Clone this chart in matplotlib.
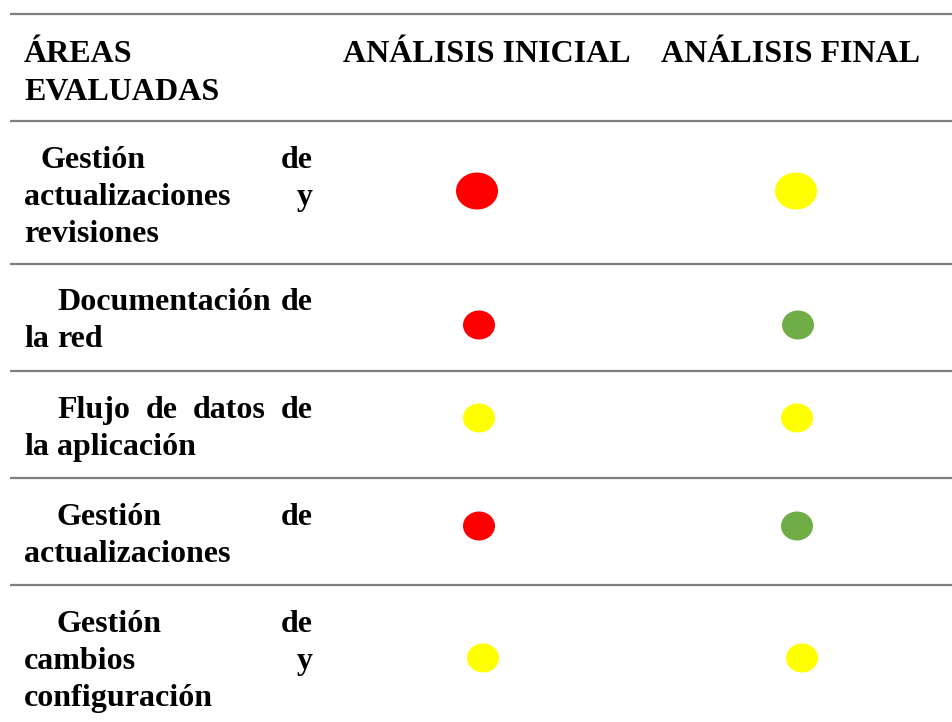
import matplotlib
matplotlib.use('Agg')
import matplotlib.pyplot as plt
from matplotlib.patches import Ellipse

# datos de la tabla
encabezados = ['ÁREAS\nEVALUADAS', 'ANÁLISIS INICIAL', 'ANÁLISIS FINAL']
areas = [
    ['Gestión de', 'actualizaciones y', 'revisiones'],
    ['Documentación de', 'la red'],
    ['Flujo de datos de', 'la aplicación'],
    ['Gestión de', 'actualizaciones'],
    ['Gestión de', 'cambios y', 'configuración'],
]
inicial = ['rojo', 'rojo', 'amarillo', 'rojo', 'amarillo']
final = ['amarillo', 'verde', 'amarillo', 'verde', 'amarillo']

colores = {'rojo': '#FF0000', 'amarillo': '#FFFF00', 'verde': '#70AD47'}

# disposición (pixeles)
lineas_y = [14, 121, 264, 371, 478, 585]
base_y = [168, 310, 418, 525, 632]
interlineado = 37
sangria = [40, 57, 57, 57, 57]
margen_izq, margen_der = 24, 313
circ_y = [191, 325, 418, 526, 658]
circ_x_ini = [477, 479, 479, 479, 483]
circ_x_fin = [796, 798, 797, 797, 802]
tam = [(42, 37), (32, 29), (32, 29), (32, 29), (32, 29)]

fuente = dict(family=['Liberation Serif', 'DejaVu Serif'], fontweight='bold',
              fontsize=23, color='black', va='baseline', ha='left')

fig = plt.figure(figsize=(9.52, 7.22), dpi=100)
ax = fig.add_axes([0, 0, 1, 1])
ax.set_xlim(0, 952)
ax.set_ylim(722, 0)
ax.axis('off')
renderer = fig.canvas.get_renderer()

for y in lineas_y:
    ax.plot([10, 952], [y, y], color='#7f7f7f', lw=1.6, solid_capstyle='butt')

# encabezado
for i, t in enumerate(encabezados[0].split('\n')):
    ax.text(margen_izq, 62 + i * 38, t, **fuente)
ax.text(343, 62, encabezados[1], **fuente)
ax.text(661, 62, encabezados[2], **fuente)

t_esp = ax.text(0, 0, 'a a', **fuente)
t_sin = ax.text(0, 0, 'aa', **fuente)
espacio = t_esp.get_window_extent(renderer).width - t_sin.get_window_extent(renderer).width
t_esp.remove()
t_sin.remove()


def linea(texto, y, x0, x1, justificar):
    palabras = texto.split()
    objs = [ax.text(0, y, p, **fuente) for p in palabras]
    anchos = [o.get_window_extent(renderer).width for o in objs]
    if justificar and len(palabras) > 1:
        hueco = (x1 - x0 - sum(anchos)) / (len(palabras) - 1)
    else:
        hueco = espacio
    x = x0
    for o, w in zip(objs, anchos):
        o.set_x(x)
        x += w + hueco


for r, lineas in enumerate(areas):
    for j, t in enumerate(lineas):
        x0 = sangria[r] if j == 0 else margen_izq
        linea(t, base_y[r] + j * interlineado, x0, margen_der, j < len(lineas) - 1)

    w, h = tam[r]
    ax.add_patch(Ellipse((circ_x_ini[r], circ_y[r]), w, h, color=colores[inicial[r]], lw=0))
    ax.add_patch(Ellipse((circ_x_fin[r], circ_y[r]), w, h, color=colores[final[r]], lw=0))

fig.savefig('out.png', dpi=100)
